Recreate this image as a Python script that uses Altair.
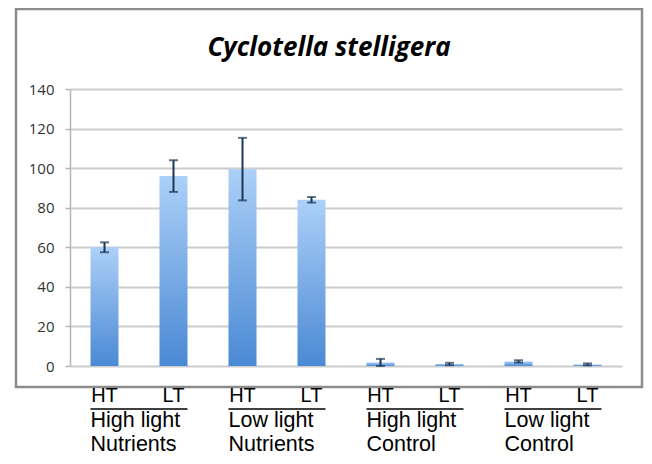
import altair as alt
import pandas as pd

# ---- data ----
groups = ["High light", "Low light", "High light", "Low light"]
treatments = ["Nutrients", "Nutrients", "Control", "Control"]
temps = ["HT", "LT"]
means = [60.0, 96.0, 99.5, 84.0, 1.8, 1.0, 2.3, 0.8]
errors = [2.5, 8.0, 15.8, 1.4, 1.8, 0.6, 0.6, 0.5]
y_ticks = [0, 20, 40, 60, 80, 100, 120, 140]
title_text = ["Cyclotella stelligera"]

rows = []
for gi in range(len(groups)):
    for ti, t in enumerate(temps):
        i = gi * 2 + ti
        rows.append({
            "key": f"{gi}-{t}",
            "temp": t,
            "mean": means[i],
            "lo": max(means[i] - errors[i], 0.0),
            "hi": means[i] + errors[i],
        })
df = pd.DataFrame(rows)
order = list(df["key"])

gdf = pd.DataFrame({
    "first": [f"{gi}-HT" for gi in range(len(groups))],
    "last": [f"{gi}-LT" for gi in range(len(groups))],
    "line1": groups,
    "line2": treatments,
})

W, H = 552, 277
xscale = alt.Scale(domain=order, paddingInner=0.594, paddingOuter=0.297)
yscale = alt.Scale(domain=[0, 140], nice=False)
yaxis = alt.Axis(
    values=y_ticks, title=None, grid=True, gridColor="#cccccc", gridWidth=2,
    domainColor="#b5b5b5", domainWidth=1.5, tickColor="#b5b5b5", tickSize=5,
    tickWidth=1.5, labelFont="Open Sans", labelFontSize=15, labelColor="#333333",
    labelPadding=11, labelOverlap=False,
)
X = alt.X("key:N", scale=xscale, sort=order, axis=None)

frame = alt.Chart(pd.DataFrame({"f": [0]})).mark_rect(
    fillOpacity=0, stroke="#8c8c8c", strokeWidth=2.5
).encode(
    x=alt.value(-54), x2=alt.value(572), y=alt.value(-80), y2=alt.value(298)
)

title = alt.Chart(pd.DataFrame({"t": title_text})).mark_text(
    font="Open Sans", fontSize=26, fontStyle="italic", fontWeight="bold",
    color="black", align="center", baseline="alphabetic",
).encode(x=alt.value(259), y=alt.value(-33), text="t:N")

bars = alt.Chart(df).mark_bar(
    color=alt.Gradient(
        gradient="linear",
        stops=[alt.GradientStop(offset=0, color="#acd0f8"),
               alt.GradientStop(offset=1, color="#4a89d4")],
        x1=0, x2=0, y1=0, y2=1,
    )
).encode(
    x=X,
    y=alt.Y("mean:Q", scale=yscale, axis=yaxis),
)

err_color = "#1d3656"
err_rule = alt.Chart(df).mark_rule(color=err_color, strokeWidth=2).encode(
    x=X,
    y=alt.Y("lo:Q", scale=yscale, axis=yaxis), y2="hi:Q",
)
cap_lo = alt.Chart(df).mark_tick(color=err_color, size=9, thickness=2).encode(
    x=X, y=alt.Y("lo:Q", scale=yscale, axis=yaxis),
)
cap_hi = alt.Chart(df).mark_tick(color=err_color, size=9, thickness=2).encode(
    x=X, y=alt.Y("hi:Q", scale=yscale, axis=yaxis),
)

temp_text = alt.Chart(df).mark_text(
    font="Liberation Sans", fontSize=20, baseline="alphabetic", color="black"
).encode(x=X, y=alt.value(313), text="temp:N")

underline = alt.Chart(gdf).mark_rule(color="black", strokeWidth=1.5).encode(
    x=alt.X("first:N", scale=xscale, bandPosition=0, axis=None),
    x2=alt.X2("last:N", bandPosition=1),
    y=alt.value(320),
)

line1 = alt.Chart(gdf).mark_text(
    font="Liberation Sans", fontSize=21.5, align="left", baseline="alphabetic", color="black"
).encode(
    x=alt.X("first:N", scale=xscale, bandPosition=0, axis=None),
    y=alt.value(338),
    text="line1:N",
)
line2 = alt.Chart(gdf).mark_text(
    font="Liberation Sans", fontSize=21.5, align="left", baseline="alphabetic", color="black"
).encode(
    x=alt.X("first:N", scale=xscale, bandPosition=0, axis=None),
    y=alt.value(362),
    text="line2:N",
)

chart = alt.layer(
    frame, title, bars, err_rule, cap_lo, cap_hi, temp_text, underline, line1, line2
).properties(
    width=W, height=H,
    padding={"left": 62, "top": 81, "right": 22, "bottom": 90},
    autosize="none",
).configure_view(stroke=None)

chart.save("out.html", embed_options={"renderer": "svg", "actions": False})
